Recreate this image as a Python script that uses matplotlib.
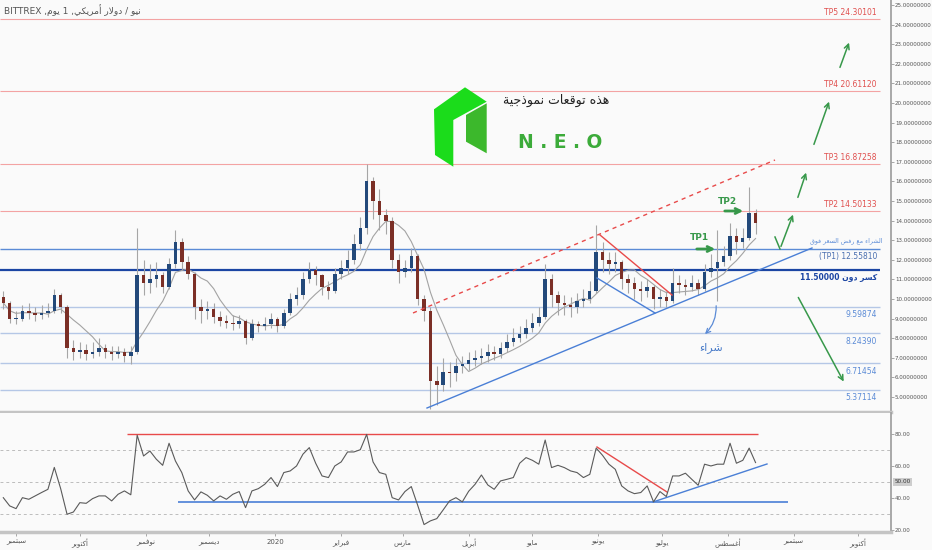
import numpy as np
import pandas as pd
import matplotlib
matplotlib.use("Agg")
import matplotlib.pyplot as plt
from matplotlib.patches import Polygon
from matplotlib.transforms import blended_transform_factory

# 3-day candles
first_open = 10.1
closes = [9.8, 9.0, 9.0, 9.4, 9.3, 9.2, 9.3, 9.4, 10.2, 9.6,
          7.5, 7.3, 7.4, 7.2, 7.3, 7.5, 7.3, 7.2, 7.3, 7.1,
          7.3, 11.2, 10.8, 11.0, 11.2, 10.6, 11.8, 12.9, 11.9, 11.3,
          9.6, 9.4, 9.5, 9.1, 8.9, 8.8, 8.7, 8.9, 8.0, 8.7,
          8.6, 8.7, 9.0, 8.6, 9.3, 10.0, 10.2, 11.0, 11.5, 11.2,
          10.6, 10.4, 11.3, 11.6, 12.0, 12.8, 13.6, 16.0, 15.0, 14.3,
          14.0, 12.0, 11.4, 11.6, 12.2, 10.0, 9.4, 5.8, 5.6, 6.3,
          6.2, 6.6, 6.7, 6.9, 7.0, 7.1, 7.3, 7.2, 7.5, 7.8,
          8.0, 8.2, 8.5, 8.8, 9.1, 11.0, 10.2, 9.8, 9.7, 9.6,
          9.9, 10.0, 10.4, 12.4, 12.0, 11.8, 11.9, 11.0, 10.8, 10.5,
          10.4, 10.6, 10.0, 10.1, 9.9, 10.8, 10.7, 10.6, 10.8, 10.5,
          11.4, 11.6, 11.9, 12.2, 13.2, 12.9, 13.1, 14.4, 13.9]
highs = [10.4, 9.9, 9.4, 9.7, 9.8, 9.6, 9.7, 9.8, 10.5, 10.3,
         9.7, 7.9, 7.8, 7.7, 7.8, 8.0, 7.7, 7.6, 7.6, 7.5,
         7.6, 13.6, 12.0, 11.8, 11.9, 11.4, 12.1, 13.5, 13.1, 12.2,
         11.4, 10.0, 9.9, 9.8, 9.4, 9.2, 9.2, 9.2, 9.0, 9.0,
         8.9, 9.1, 9.3, 9.1, 9.5, 10.3, 10.6, 11.4, 11.9, 11.7,
         11.3, 10.9, 11.6, 12.0, 12.5, 13.3, 14.2, 16.9, 16.2, 15.6,
         14.6, 14.2, 12.3, 12.0, 12.6, 12.3, 10.2, 9.6, 6.6, 7.0,
         6.8, 7.0, 7.1, 7.3, 7.4, 7.5, 7.7, 7.6, 7.8, 8.2,
         8.5, 8.6, 9.0, 9.3, 9.6, 11.8, 11.3, 10.4, 10.2, 10.1,
         10.3, 10.5, 10.9, 13.8, 12.9, 12.4, 12.4, 12.0, 11.3, 11.1,
         10.9, 11.0, 10.7, 10.5, 10.4, 11.6, 11.2, 11.0, 11.2, 11.0,
         11.8, 12.3, 13.5, 12.7, 13.9, 13.6, 13.6, 15.7, 14.6]
lows = [9.5, 8.8, 8.7, 8.9, 9.0, 8.9, 9.0, 9.1, 9.3, 9.3,
        7.0, 6.9, 7.0, 6.9, 7.0, 7.1, 7.0, 6.9, 7.0, 6.8,
        6.7, 7.2, 10.2, 10.3, 10.6, 10.3, 10.5, 11.6, 11.5, 11.0,
        9.0, 8.8, 9.0, 8.8, 8.6, 8.5, 8.4, 8.5, 7.7, 7.9,
        8.3, 8.4, 8.5, 8.3, 8.5, 9.2, 9.7, 10.0, 10.8, 10.7,
        10.2, 10.0, 10.3, 11.0, 11.3, 11.8, 12.5, 13.3, 14.1, 13.5,
        13.3, 11.6, 10.8, 11.1, 11.4, 9.7, 8.9, 4.4, 4.6, 5.3,
        5.5, 5.8, 6.2, 6.4, 6.6, 6.7, 6.8, 6.9, 7.0, 7.3,
        7.6, 7.8, 8.0, 8.3, 8.6, 9.0, 9.6, 9.2, 9.2, 9.1,
        9.3, 9.6, 9.8, 10.3, 11.4, 11.3, 11.4, 10.5, 10.3, 10.0,
        9.9, 10.1, 9.5, 9.6, 9.6, 9.8, 10.3, 10.2, 10.4, 10.2,
        10.4, 11.1, 9.9, 11.7, 12.0, 12.3, 12.6, 13.0, 13.3]
rsi_values = [40.2, 35.1, 33.4, 40.2, 39.2, 41.3, 43.4, 45.4, 59.0, 45.8,
              29.9, 31.3, 37.1, 36.7, 39.6, 41.3, 41.3, 38.2, 42.3, 44.4,
              42.0, 79.0, 66.1, 69.2, 64.1, 60.3, 74.0, 63.0, 55.8, 44.4,
              38.8, 43.8, 41.7, 38.2, 41.3, 39.2, 42.3, 44.0, 34.0, 44.4,
              45.8, 48.5, 52.7, 47.1, 55.8, 56.8, 59.9, 67.2, 71.3, 61.6,
              53.7, 52.7, 59.9, 62.4, 68.6, 68.6, 70.0, 79.5, 62.4, 55.8,
              54.7, 40.2, 38.8, 44.0, 47.1, 35.5, 23.5, 25.8, 27.2, 32.6,
              38.2, 40.2, 37.6, 44.2, 48.5, 54.3, 48.1, 45.4, 50.6, 51.6,
              52.7, 61.6, 65.1, 63.4, 61.0, 76.0, 58.9, 60.3, 58.9, 56.8,
              55.8, 52.7, 54.7, 71.0, 66.5, 61.0, 57.8, 47.5, 44.4, 42.7,
              43.4, 47.5, 37.6, 44.0, 40.9, 53.7, 53.7, 55.4, 51.6, 47.9,
              61.0, 59.9, 61.0, 61.0, 74.0, 61.6, 63.4, 71.0, 62.0]

targets = [24.30101, 20.61120, 16.87258, 14.50133]
target_names = ["TP5", "TP4", "TP3", "TP2"]
supports = [9.59874, 8.24390, 6.71454, 5.37114]
tp1_level = 12.55810
break_level = 11.50000

month_names = ["سبتمبر", "أكتوبر", "نوفمبر", "ديسمبر", "2020", "فبراير", "مارس",
               "أبريل", "مايو", "يونيو", "يوليو", "أغسطس", "سبتمبر", "أكتوبر"]

BG = "#fafafa"
UP, DOWN, WICK = "#23497a", "#7b2f26", "#a6a6a6"
TP_RED, LBL_RED = "#f3a3a3", "#e0504f"
BLUE, DARK_BLUE, PALE_BLUE = "#5b8bd6", "#1b45a3", "#b5c7e6"
GREEN = "#37984a"
AXIS_FONT = dict(fontsize=4.4, fontstretch="condensed", color="#555")

# --- arabic shaping (matplotlib has no shaper) ---
DUAL = {"ب": 0xFE8F, "ت": 0xFE95, "ث": 0xFE99, "ج": 0xFE9D, "ح": 0xFEA1, "خ": 0xFEA5,
        "س": 0xFEB1, "ش": 0xFEB5, "ص": 0xFEB9, "ض": 0xFEBD, "ط": 0xFEC1, "ظ": 0xFEC5,
        "ع": 0xFEC9, "غ": 0xFECD, "ف": 0xFED1, "ق": 0xFED5, "ك": 0xFED9, "ل": 0xFEDD,
        "م": 0xFEE1, "ن": 0xFEE5, "ه": 0xFEE9, "ي": 0xFEF1, "ئ": 0xFE89}
RIGHT = {"ا": 0xFE8D, "أ": 0xFE83, "إ": 0xFE87, "آ": 0xFE81, "د": 0xFEA9, "ذ": 0xFEAB,
         "ر": 0xFEAD, "ز": 0xFEAF, "و": 0xFEED, "ة": 0xFE93, "ى": 0xFEEF, "ؤ": 0xFE85}
LAM_ALEF = {"ا": 0xFEFB, "أ": 0xFEF7, "إ": 0xFEF9, "آ": 0xFEF5}


def shape(text):
    out, i = [], 0
    while i < len(text):
        c = text[i]
        prev = text[i - 1] if i > 0 else ""
        nxt = text[i + 1] if i + 1 < len(text) else ""
        p = prev in DUAL
        if c == "ل" and nxt in LAM_ALEF:
            out.append(chr(LAM_ALEF[nxt] + (1 if p else 0)))
            i += 2
            continue
        if c in DUAL:
            q = nxt in DUAL or nxt in RIGHT
            form = 3 if (p and q) else 1 if p else 2 if q else 0
            out.append(chr(DUAL[c] + form))
        elif c in RIGHT:
            out.append(chr(RIGHT[c] + (1 if p else 0)))
        elif c == "ء":
            out.append(chr(0xFE80))
        else:
            out.append(c)
        i += 1
    return "".join(out)


def ar(text):
    if not any(ch in DUAL or ch in RIGHT or ch == "ء" for ch in text):
        return text
    return shape(text)[::-1]


# pixel -> data helpers for hand drawn annotations
def dx(px):
    return (px - 275.3) / 2.125


def py(p):
    return 5 + (397 - p) / 19.6


def ry(p):
    return 80 - (p - 433.6) / 1.61


jan1 = pd.Timestamp("2020-01-01")
dates = pd.date_range("2019-08-26", periods=len(closes), freq="3D")
days = np.asarray((dates - jan1).days, dtype=float)
month_days = np.asarray((pd.date_range("2019-09-01", periods=len(month_names), freq="MS") - jan1).days)

c = np.array(closes)
o = np.array([first_open] + closes[:-1])
colors = np.where(c >= o, UP, DOWN)
ma = pd.Series(closes).rolling(7, min_periods=1).mean()

fig = plt.figure(figsize=(9.32, 5.5), dpi=100, facecolor=BG)
ax = fig.add_axes([0, 138 / 550, 891 / 932, 412 / 550], facecolor=BG)
rx = fig.add_axes([0, 18 / 550, 891 / 932, 119 / 550], facecolor=BG, sharex=ax)

# levels
line_end = dx(880)
for name, lvl in zip(target_names, targets):
    ax.hlines(lvl, dx(0), line_end, color=TP_RED, lw=0.8, zorder=1)
    ax.annotate(f"{name} {lvl:.5f}", (dx(877), lvl), xytext=(0, 1.5), textcoords="offset points",
                ha="right", va="bottom", fontsize=5.5, color=LBL_RED)
for lvl in supports:
    ax.hlines(lvl, dx(0), line_end, color=PALE_BLUE, lw=1.0, zorder=1)
    ax.annotate(f"{lvl:.5f}", (dx(877), lvl), xytext=(0, -2.5), textcoords="offset points",
                ha="right", va="top", fontsize=5.5, color=BLUE)
ax.hlines(tp1_level, dx(0), line_end, color=BLUE, lw=1.0, zorder=1)
ax.annotate(f"(TP1) {tp1_level:.5f}", (dx(877), tp1_level), xytext=(0, -2.5), textcoords="offset points",
            ha="right", va="top", fontsize=5.5, color="#4a6fb0")
ax.hlines(break_level, dx(0), line_end, color=DARK_BLUE, lw=1.6, zorder=1)
ax.annotate(f"{break_level:.5f} " + ar("كسر دون"), (dx(877), break_level), xytext=(0, -2.5),
            textcoords="offset points", ha="right", va="top", fontsize=5.5, color=DARK_BLUE,
            fontweight="bold")
ax.text(dx(846), py(241), ar("الشراء مع رفض السعر فوق"), ha="center", va="center",
        fontsize=4.5, color=BLUE)

# candles
ax.vlines(days, lows, highs, color=WICK, lw=0.8, zorder=2)
ax.bar(days, np.maximum(np.abs(c - o), 0.05), bottom=np.minimum(o, c), width=1.6,
       color=colors, lw=0, zorder=3)
ax.plot(days, ma, color="#a3a3a3", lw=0.8, zorder=2)

# trend lines
ax.plot([dx(413), dx(775)], [py(313), py(160)], color="#e84a4a", lw=1, ls=(0, (3, 3)), zorder=4)
ax.plot([dx(427), dx(812)], [py(408), py(248)], color="#4a7fd6", lw=1, zorder=4)
ax.plot([dx(600), dx(672)], [py(235), py(295)], color="#e84a4a", lw=1, zorder=4)
ax.plot([dx(597), dx(655)], [py(278), py(313)], color="#4a7fd6", lw=1, zorder=4)

# green arrows
arrow = dict(arrowstyle="->", color=GREEN, lw=1.1, mutation_scale=9)
for (x0, y0), (x1, y1) in [((813, 147), (830, 99)), ((839, 70), (850, 40)),
                           ((797, 200), (807, 170)), ((797, 295), (845, 384))]:
    ax.annotate("", (dx(x1), py(y1)), (dx(x0), py(y0)), arrowprops=arrow, zorder=5)
ax.plot([dx(775), dx(780)], [py(237), py(249)], color=GREEN, lw=1.1, zorder=5)
ax.annotate("", (dx(794), py(212)), (dx(780), py(249)), arrowprops=arrow, zorder=5)
thick = dict(arrowstyle="->", color=GREEN, lw=2, mutation_scale=9)
ax.annotate("", (dx(718), py(249)), (dx(694), py(249)), arrowprops=thick, zorder=5)
ax.annotate("", (dx(746), py(211)), (dx(722), py(211)), arrowprops=thick, zorder=5)
ax.text(dx(699), py(238), "TP1", fontsize=6.5, fontweight="bold", color=GREEN, ha="center", va="center")
ax.text(dx(727), py(201), "TP2", fontsize=6.5, fontweight="bold", color=GREEN, ha="center", va="center")

# buy arrow
ax.annotate("", (dx(703), py(336)), (dx(716), py(303)),
            arrowprops=dict(arrowstyle="->", color=BLUE, lw=0.9, connectionstyle="arc3,rad=-0.25",
                            mutation_scale=8), zorder=5)
ax.text(dx(711), py(348), ar("شراء"), fontsize=8, color="#4a7cc9", ha="center", va="center")

# logo
left_piece = [(434, 109.3), (465, 87.3), (486.7, 101.7), (453.3, 120), (453.3, 166.7), (435, 155)]
right_piece = [(466, 115), (486.7, 103.3), (486.7, 153.3), (466, 141.7)]
ax.add_patch(Polygon([(dx(x), py(y)) for x, y in left_piece], closed=True, color="#1bdc1b", lw=0, zorder=5))
ax.add_patch(Polygon([(dx(x), py(y)) for x, y in right_piece], closed=True, color="#3cb82c", lw=0, zorder=5))
ax.text(dx(556), py(100), ar("هذه توقعات نموذجية"), fontsize=9, color="#222", ha="center", va="center")
ax.text(dx(560), py(142), "N . E . O", fontsize=13.5, fontweight="bold", color="#3cab3a",
        ha="center", va="center")

ax.set_xlim(dx(0), dx(891))
ax.set_ylim(py(412), py(0))
ax.yaxis.tick_right()
ax.set_yticks(range(5, 26))
ax.set_yticklabels([f"{v:.8f}" for v in range(5, 26)], **AXIS_FONT)
ax.tick_params(axis="y", length=2, width=0.6, color="#999", pad=0.8)
ax.tick_params(axis="x", bottom=False, labelbottom=False)
for side in ("left", "top"):
    ax.spines[side].set_visible(False)
ax.spines["bottom"].set_color("#c4c4c4")
ax.spines["bottom"].set_linewidth(2.5)
ax.spines["right"].set_color("#9a9a9a")
ax.spines["right"].set_linewidth(1.2)

# RSI pane
rx.plot(days, rsi_values, color="#5a5a5a", lw=0.8, zorder=3)
for v in (70, 50, 30):
    rx.axhline(v, color="#bdbdbd", lw=0.7, ls=(0, (3, 3)), zorder=1)
rx.hlines(80, dx(127), dx(758), color="#e84a4a", lw=1, zorder=2)
rx.hlines(ry(502.3), dx(178), dx(788), color="#4a7fd6", lw=1.2, zorder=2)
rx.plot([dx(597), dx(667)], [ry(447), ry(492)], color="#e84a4a", lw=1, zorder=2)
rx.plot([dx(653), dx(767)], [ry(502), ry(464)], color="#4a7fd6", lw=1, zorder=2)
rx.set_ylim(ry(532), ry(413))
rx.yaxis.tick_right()
rx.set_yticks([20, 40, 60, 80])
rx.set_yticklabels([f"{v:.2f}" for v in (20, 40, 60, 80)], **AXIS_FONT)
rx.tick_params(axis="y", length=2, width=0.6, color="#999", pad=0.8)
trans = blended_transform_factory(rx.transAxes, rx.transData)
rx.text(1.004, 50, "50.00", transform=trans, fontsize=4.6, fontstretch="condensed", color="#333",
        va="center", ha="left", bbox=dict(facecolor="#cdcdcd", edgecolor="none", pad=1.2))
rx.set_xticks(month_days)
rx.set_xticklabels([ar(m) for m in month_names], fontsize=5.0, color="#555")
rx.tick_params(axis="x", length=3, width=0.6, color="#999", pad=2)
for side in ("left", "top"):
    rx.spines[side].set_visible(False)
rx.spines["bottom"].set_color("#c4c4c4")
rx.spines["bottom"].set_linewidth(2.5)
rx.spines["right"].set_color("#9a9a9a")
rx.spines["right"].set_linewidth(1.2)

title = "BITTREX ," + ar("يوم") + " 1 ," + ar("نيو / دولار أمريكي")
fig.text(4 / 932, 1 - 10 / 550, title, fontsize=6.5, color="#555", ha="left", va="center")

fig.savefig("out.png", dpi=100, facecolor=BG)
